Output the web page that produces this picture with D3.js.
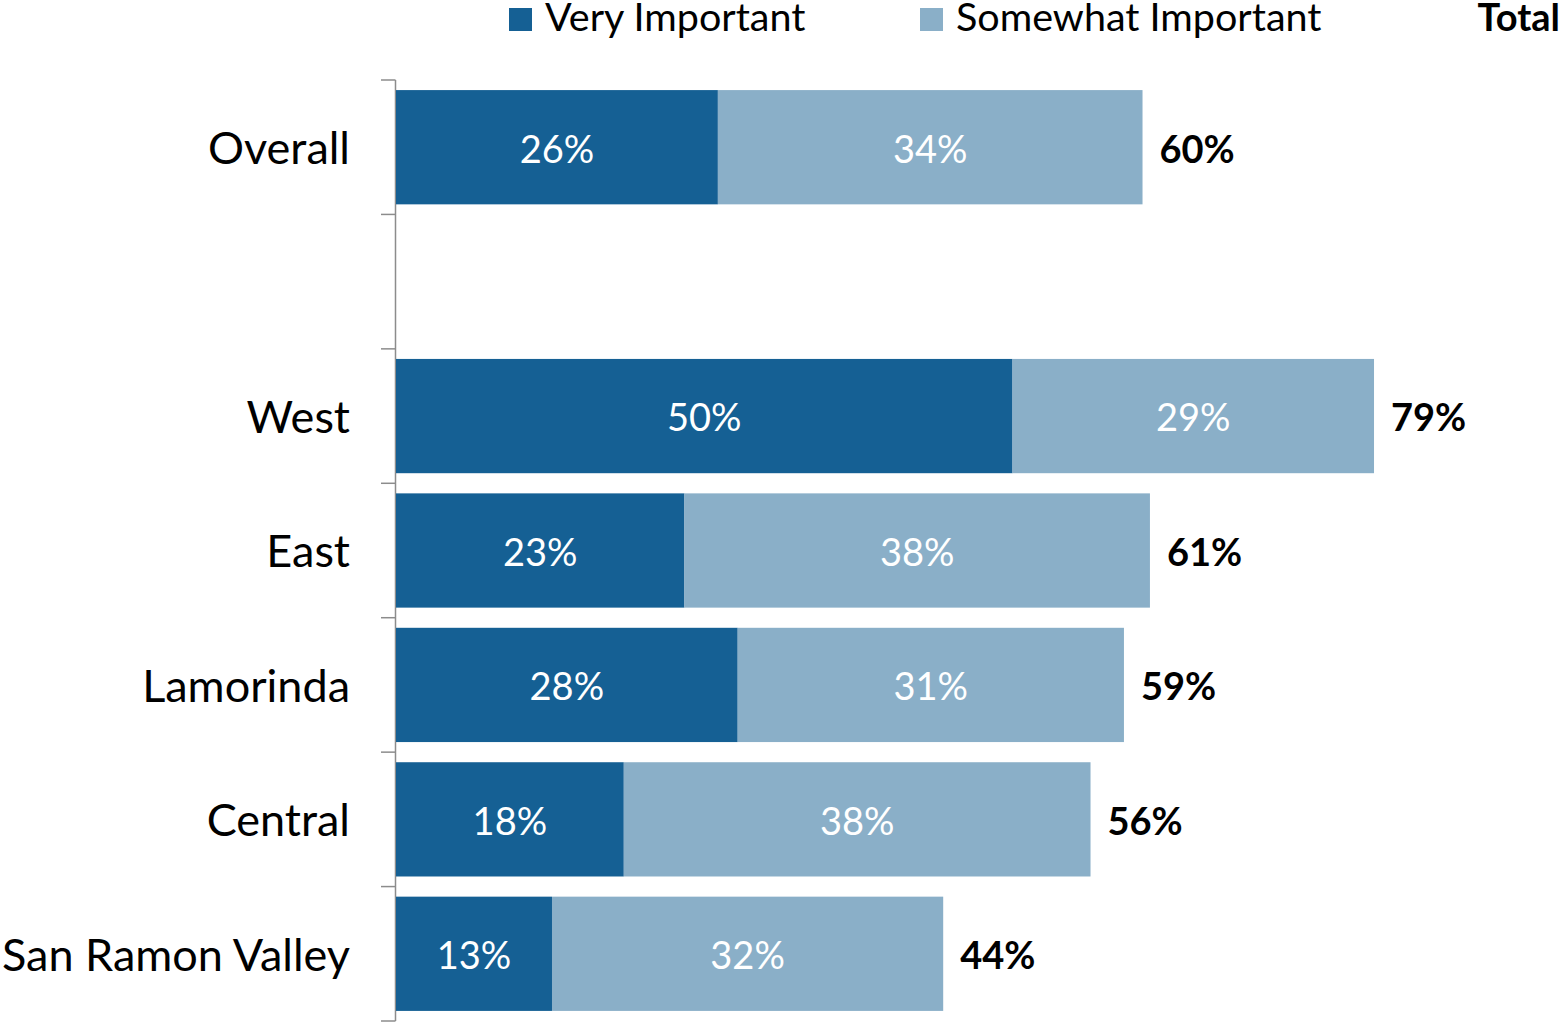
<!DOCTYPE html>
<html><head><meta charset="utf-8">
<script src="https://cdn.jsdelivr.net/npm/d3@7"></script>
<style>body{margin:0;background:#fff;} text{font-family:Lato,"Open Sans",sans-serif;}</style>
</head><body>
<svg id="c" width="1563" height="1023"></svg>
<script>
const categories = ["Overall", "", "West", "East", "Lamorinda", "Central", "San Ramon Valley"];
const veryImportant = [26.0, null, 49.8, 23.3, 27.6, 18.4, 12.6];
const somewhatImportant = [34.3, null, 29.2, 37.6, 31.2, 37.7, 31.6];
const seriesNames = ["Very Important", "Somewhat Important"];
const colors = ["#156094", "#8AAFC8"];

const svg = d3.select("#c");
const x = d3.scaleLinear().domain([0, 100]).range([396, 1634]);
const y = d3.scaleBand().domain(categories.map((d,i)=>i)).range([80, 1021]).paddingInner(0.15).paddingOuter(0.075);

const rows = categories.map((c,i)=>({i, c, v: veryImportant[i], s: somewhatImportant[i]}));
const data = rows.filter(r=>r.v!=null);

// axis line & ticks
const step = y.step();
const y0 = y.range()[0];
svg.append("line").attr("x1",395.5).attr("x2",395.5).attr("y1",y0).attr("y2",y.range()[1]).attr("stroke","#8c8c8c").attr("stroke-width",1.5);
d3.range(categories.length+1).forEach(k=>{
  const yy = y0 + k*step;
  svg.append("line").attr("x1",381).attr("x2",395.5).attr("y1",yy).attr("y2",yy).attr("stroke","#8c8c8c").attr("stroke-width",1.5);
});

// bars
svg.selectAll("rect.v").data(data).join("rect").attr("class","v")
  .attr("x",x(0)).attr("y",d=>y(d.i)).attr("width",d=>x(d.v)-x(0)).attr("height",y.bandwidth()).attr("fill",colors[0]);
svg.selectAll("rect.s").data(data).join("rect").attr("class","s")
  .attr("x",d=>x(d.v)).attr("y",d=>y(d.i)).attr("width",d=>x(d.v+d.s)-x(d.v)).attr("height",y.bandwidth()).attr("fill",colors[1]);

// labels in bars
const fs = 38;
svg.selectAll("text.lv").data(data).join("text")
  .attr("x",d=>(x(0)+x(d.v))/2).attr("y",d=>y(d.i)+y.bandwidth()/2+2).attr("dy","0.35em")
  .attr("text-anchor","middle").attr("fill","#fff").attr("font-size",fs).text(d=>Math.round(d.v)+"%");
svg.selectAll("text.ls").data(data).join("text")
  .attr("x",d=>(x(d.v)+x(d.v+d.s))/2).attr("y",d=>y(d.i)+y.bandwidth()/2+2).attr("dy","0.35em")
  .attr("text-anchor","middle").attr("fill","#fff").attr("font-size",fs).text(d=>Math.round(d.s)+"%");
svg.selectAll("text.lt").data(data).join("text")
  .attr("x",d=>x(d.v+d.s)+17).attr("y",d=>y(d.i)+y.bandwidth()/2+2).attr("dy","0.35em")
  .attr("text-anchor","start").attr("fill","#000").attr("font-weight","bold").attr("font-size",fs).text(d=>Math.round(d.v+d.s)+"%");

// category labels
svg.selectAll("text.cat").data(rows).join("text")
  .attr("x",350).attr("y",d=>y(d.i)+y.bandwidth()/2+1).attr("dy","0.35em")
  .attr("text-anchor","end").attr("fill","#000").attr("font-size",45).text(d=>d.c);

// legend
const lx = [509, 920];
seriesNames.forEach((n,k)=>{
  svg.append("rect").attr("x",lx[k]).attr("y",8).attr("width",23).attr("height",23).attr("fill",colors[k]);
  svg.append("text").attr("x",lx[k]+36).attr("y",31).attr("font-size",39.5).attr("fill","#000").text(n);
});
svg.append("text").attr("x",1560).attr("y",31).attr("text-anchor","end").attr("font-weight","bold").attr("font-size",38).attr("fill","#000").text("Total");
</script>
</body></html>
